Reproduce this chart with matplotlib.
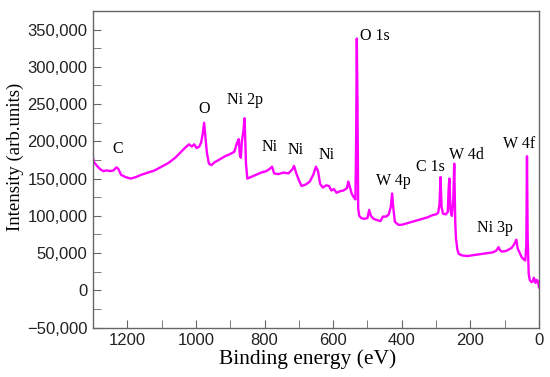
import numpy as np
import matplotlib
matplotlib.use("Agg")
import matplotlib.pyplot as plt
from matplotlib.ticker import MultipleLocator, FuncFormatter

# espectro XPS (eV, cuentas)
energia = [1300, 1297, 1290, 1280, 1270, 1260, 1250, 1240, 1232, 1226, 1218, 1205, 1190,
           1175, 1160, 1140, 1120, 1100, 1080, 1060, 1045, 1030, 1020, 1012, 1005, 998,
           990, 985, 980, 976, 972, 968, 962, 955, 945, 930, 915, 900, 888, 880, 875,
           872, 869, 866, 862, 858, 854, 850, 840, 825, 810, 795, 785, 778, 772, 760,
           745, 730, 718, 714, 708, 700, 692, 680, 668, 658, 650, 644, 638, 630, 620,
           612, 605, 598, 590, 580, 570, 560, 556, 552, 546, 540, 535, 533, 531, 529,
           527, 524, 518, 510, 500, 495, 490, 482, 470, 462, 455, 445, 438, 432, 428,
           425, 420, 410, 400, 385, 370, 355, 340, 325, 310, 300, 294, 290, 287, 284,
           280, 272, 266, 263, 261, 258, 254, 250, 247, 244, 242, 238, 234, 225, 210,
           195, 180, 165, 150, 135, 125, 118, 114, 108, 95, 80, 72, 66, 62, 56, 50, 45,
           40, 37, 35, 33, 30, 27, 22, 18, 15, 10, 7, 3, 0]
intensidad = [178000, 172000, 168000, 163000, 160000, 161000, 160000, 161000, 165000,
              163000, 155000, 152000, 150000, 152000, 155000, 158000, 161000, 166000,
              171000, 178000, 185000, 192000, 196000, 193000, 196000, 191000, 193000,
              198000, 210000, 225000, 205000, 185000, 170000, 168000, 172000, 176000,
              180000, 183000, 186000, 198000, 203000, 182000, 178000, 200000, 212000,
              231000, 170000, 150000, 152000, 155000, 158000, 160000, 163000, 166000,
              157000, 156000, 158000, 157000, 163000, 167000, 158000, 148000, 140000,
              142000, 146000, 155000, 166000, 160000, 143000, 138000, 141000, 140000,
              134000, 136000, 131000, 133000, 134000, 137000, 146000, 140000, 130000,
              125000, 122000, 200000, 338000, 250000, 110000, 100000, 97000, 96000,
              97000, 108000, 100000, 96000, 94000, 93000, 99000, 99000, 102000, 112000,
              130000, 112000, 92000, 88000, 88000, 90000, 92000, 94000, 96000, 98000,
              101000, 102000, 104000, 115000, 152000, 112000, 103000, 102000, 105000,
              140000, 150000, 108000, 100000, 120000, 170000, 90000, 70000, 55000,
              49000, 47000, 46000, 47000, 48000, 49000, 50000, 51000, 53000, 58000,
              54000, 52000, 53000, 57000, 62000, 68000, 56000, 50000, 44000, 42000,
              40000, 60000, 180000, 70000, 22000, 14000, 11000, 12000, 17000, 10000,
              14000, 12000, 4000]

# etiquetas de los picos
etiquetas = ["C", "O", "Ni 2p", "Ni", "Ni", "Ni", "O 1s", "W 4p", "C 1s", "W 4d", "W 4f", "Ni 3p"]
etiq_x = [1229, 975, 858, 785, 709, 618, 478, 425, 317, 212, 59, 127]
etiq_y = [190000, 244000, 255000, 192000, 189000, 181000, 342000, 147000, 166000, 182000, 197000, 84000]

serif = ["Liberation Serif", "DejaVu Serif"]
sans = ["Liberation Sans", "DejaVu Sans"]

fig = plt.figure(figsize=(5.5, 3.77), dpi=100)
ax = fig.add_axes([0.169, 0.131, 0.811, 0.840])

ax.plot(energia, intensidad, color="#FF00FF", lw=1.7)

for t, x, y in zip(etiquetas, etiq_x, etiq_y):
    ax.text(x, y, t, ha="center", va="center", fontsize=11.5, family=serif)

ax.set_xlim(1300, 0)
ax.set_ylim(-50000, 375000)
ax.xaxis.set_major_locator(MultipleLocator(200))
ax.xaxis.set_minor_locator(MultipleLocator(100))
ax.yaxis.set_major_locator(MultipleLocator(50000))
ax.yaxis.set_minor_locator(MultipleLocator(25000))
ax.yaxis.set_major_formatter(FuncFormatter(lambda v, p: f"{v:,.0f}".replace("-", "\u2212")))

for s in ax.spines.values():
    s.set_color("#666666")
    s.set_linewidth(1.0)
ax.tick_params(which="both", direction="in", length=6, color="#666666",
               top=False, right=False)
ax.tick_params(labelsize=12, labelcolor="#222222", pad=4)
for lab in ax.get_xticklabels() + ax.get_yticklabels():
    lab.set_family(sans)

ax.set_xlabel("Binding energy (eV)", fontsize=15.5, family=serif)
ax.set_ylabel("Intensity (arb.units)", fontsize=13.5, family=serif)
ax.xaxis.set_label_coords(0.481, -0.068)
ax.yaxis.set_label_coords(-0.155, 0.54)

fig.savefig("out.png", dpi=100)
